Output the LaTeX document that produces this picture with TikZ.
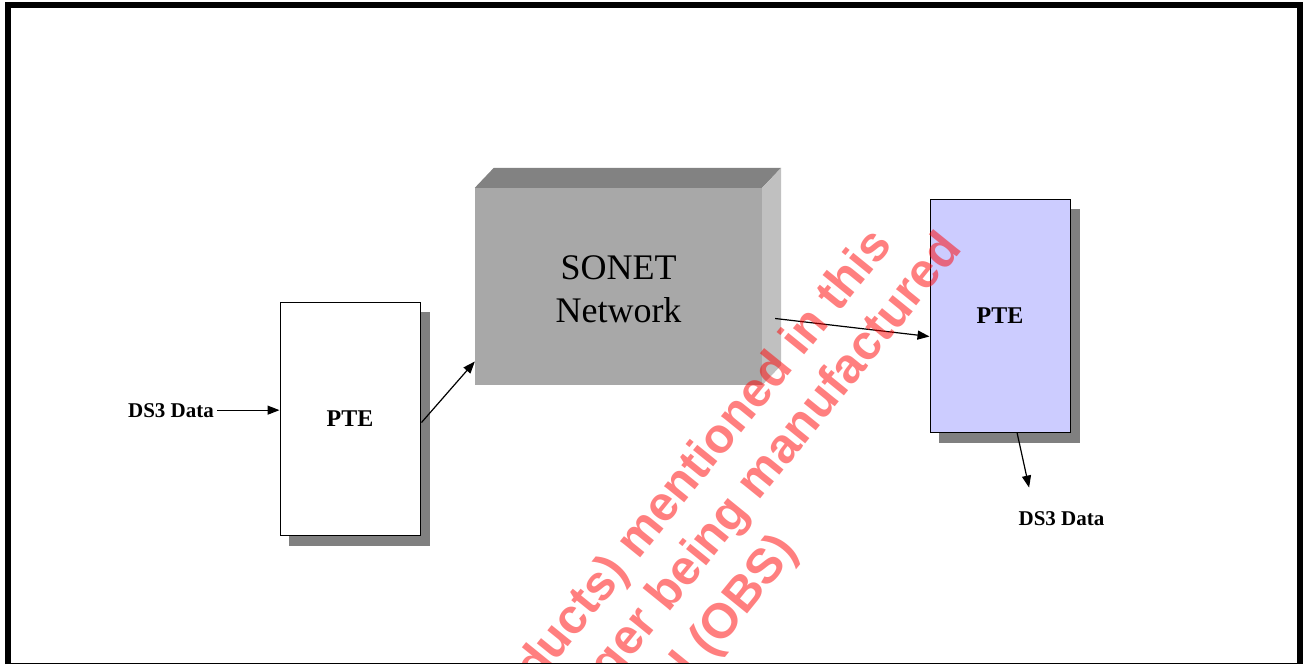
\documentclass[tikz,border=0pt]{standalone}
\usepackage{fontspec}
\setmainfont{Liberation Serif}
\newfontfamily\wmfont{Liberation Sans}
\usetikzlibrary{arrows.meta, calc, positioning, backgrounds}
\definecolor{boxShadow}{RGB}{128, 128, 128}
\definecolor{sonetFront}{RGB}{168, 168, 168}
\definecolor{sonetTop}{RGB}{130, 130, 130}
\definecolor{sonetSide}{RGB}{192, 192, 192}
\definecolor{pteBlue}{RGB}{204, 204, 255}

\begin{document}
\begin{tikzpicture} [
        x=1pt, y=-1pt,
        pte/.style={draw, line width=1pt, minimum width=140pt, minimum height=233pt, inner sep=0pt, font=\bfseries\fontsize{24}{28}\selectfont},
        pte shadow/.style={fill=boxShadow, minimum width=141pt, minimum height=234pt, inner sep=0pt},
        sonet/.style={fill=sonetFront, minimum width=287pt, minimum height=197pt, inner sep=0pt},
        sonet text/.style={align=center, font=\fontsize{36}{43}\selectfont},
        data label/.style={font=\bfseries\fontsize{21}{25}\selectfont, anchor=base},
        arrow/.style={line width=1.2pt, -{Triangle[length=12pt, width=9pt]}},
        watermark/.style={font=\wmfont\bfseries\fontsize{49}{56}\selectfont, text=red, text opacity=0.5, rotate=51, anchor=base east, inner sep=0pt}
    ]

    \useasboundingbox (0,0) rectangle (1303,664);

    % boxes
    \node[pte, fill=white] (pte in) at (350,418.5) {PTE};
    \node[pte, fill=pteBlue] (pte out) at (1000,315.5) {PTE};
    \node[sonet] (sonet) at (618.5,286.5) {};
    \node[sonet text] (sonet label) at ($ (sonet) + (0,3) $) {SONET\\Network};

    \begin{scope}[on background layer]
        \node[pte shadow] (pte in shadow) at ($ (pte in) + (9,10) $) {};
        \node[pte shadow] (pte out shadow) at ($ (pte out) + (9,10) $) {};
    \end{scope}

    \fill[sonetTop] (sonet.north west) -- ++(19,-20) -- ($ (sonet.north east) + (19,-20) $) -- (sonet.north east) -- cycle;
    \fill[sonetSide] (sonet.north east) -- ++(19,-20) -- ($ (sonet.south east) + (19,-20) $) -- (sonet.south east) -- cycle;

    % labels and arrows
    \node[data label] (ds3 in) at (171,417) {DS3 Data};
    \node[data label] (ds3 out) at (1061.5,525) {DS3 Data};

    \coordinate (sonet in) at ($ (sonet.south west)!0.12!(sonet.north west) $);
    \coordinate (sonet out) at ($ (sonet.east) + (13,32) $);
    \coordinate (ds3 tip) at ($ (ds3 out.north west) + (14,-20) $);

    \draw[arrow] (ds3 in.east) -- (ds3 in.east -| pte in.west);
    \draw[arrow] ($ (pte in.east) + (1,4) $) -- (sonet in);
    \draw[arrow] (sonet out) -- ($ (pte out.west) + (0,21) $);
    \draw[arrow] ($ (pte out.south) + (17,0) $) -- (ds3 tip);

    % watermark
    \begin{scope}
        \clip (0,0) rectangle (1303,663);
        \node[watermark] (wm line 1) at (893.5,245.4) {ducts) mentioned in this};
        \node[watermark] (wm line 2) at (963,249.3) {ger being manufactured};
        \node[watermark] (wm line 3) at (798.6,550.8) {d (OBS)};
    \end{scope}

    % frame
    \draw[line width=6pt] (8,664) -- (8,5) -- (1300,5) -- (1300,664);
    \draw[line width=1pt] (8,663) -- (1300,663);

\end{tikzpicture}
\end{document}
